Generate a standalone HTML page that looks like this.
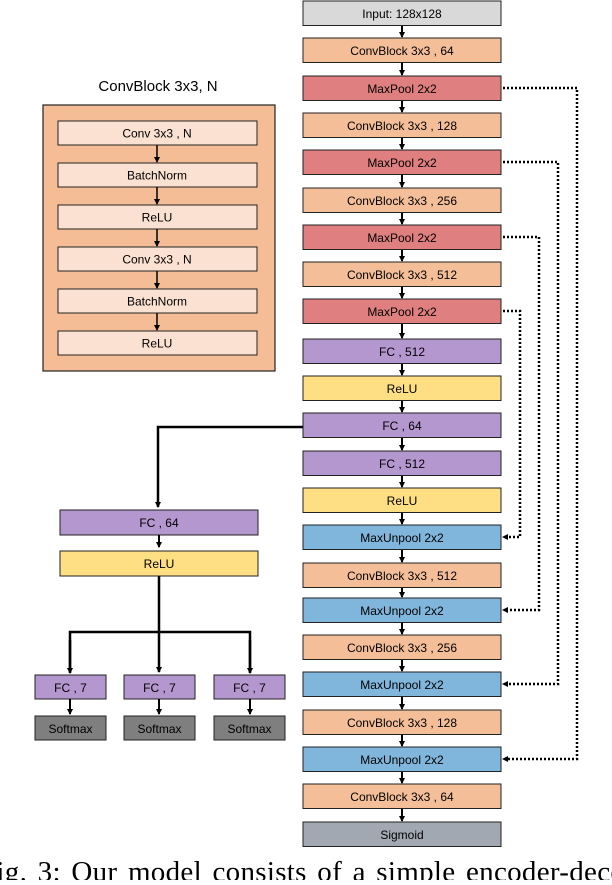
<!DOCTYPE html>
<html><head><style>
body{margin:0;background:#fff;width:612px;height:880px;overflow:hidden;position:relative}
svg text{font-family:"Liberation Sans","DejaVu Sans",sans-serif;font-size:12px;}
.capwrap{position:absolute;left:0;top:850px;width:612px;height:30px;overflow:hidden}
.cap{position:absolute;left:-20px;top:6px;font-family:"Liberation Serif",serif;font-size:29px;white-space:nowrap;color:#000;letter-spacing:0.3px;word-spacing:3px}
</style></head><body>
<svg width="612" height="880" xmlns="http://www.w3.org/2000/svg">
<defs>
<marker id="a" markerWidth="6" markerHeight="6" refX="5" refY="3" orient="auto" markerUnits="userSpaceOnUse"><path d="M0,0 L6,3 L0,6 z" fill="#000"/></marker>
</defs>
<g id="main"></g>
<text x="158" y="91" text-anchor="middle" style="font-size:15px">ConvBlock 3x3, N</text>
<rect x="43" y="105" width="232" height="266" fill="#f4bd96" stroke="#222" stroke-width="1.2"/>
<g id="panel"></g>
<polyline points="303,427 158,427 158,507" fill="none" stroke="#000" stroke-width="2.5" marker-end="url(#a)"/>
<rect x="60" y="510" width="198" height="25" fill="#b497cf" stroke="#222"/>
<text x="159" y="527" text-anchor="middle">FC , 64</text>
<line x1="159" y1="535" x2="159" y2="547" stroke="#000" stroke-width="2" marker-end="url(#a)"/>
<rect x="60" y="551" width="198" height="25" fill="#fedf84" stroke="#222"/>
<text x="159" y="568" text-anchor="middle">ReLU</text>
<line x1="159" y1="576" x2="159" y2="672" stroke="#000" stroke-width="2.5" marker-end="url(#a)"/>
<polyline points="70,672 70,632 250,632 250,672" fill="none" stroke="#000" stroke-width="2.5"/>
<line x1="70" y1="640" x2="70" y2="673" stroke="#000" stroke-width="2.5" marker-end="url(#a)"/>
<line x1="250" y1="640" x2="250" y2="673" stroke="#000" stroke-width="2.5" marker-end="url(#a)"/>
<g id="heads"></g>
</svg>
<div class="capwrap"><div class="cap">Fig. 3: Our model consists of a simple encoder-deco</div></div>
<script>
const NS="http://www.w3.org/2000/svg";
function el(p,t,a,txt){const e=document.createElementNS(NS,t);for(const k in a)e.setAttribute(k,a[k]);if(txt)e.textContent=txt;p.appendChild(e);return e;}
const C={g:"#d9d9d9",c:"#f4bf98",m:"#df7f7f",f:"#b497cf",r:"#fedf84",u:"#80b5dc",s:"#a2a8b1"};
const items=[["g","Input: 128x128"],["c","ConvBlock 3x3 , 64"],["m","MaxPool 2x2"],["c","ConvBlock 3x3 , 128"],["m","MaxPool 2x2"],["c","ConvBlock 3x3 , 256"],["m","MaxPool 2x2"],["c","ConvBlock 3x3 , 512"],["m","MaxPool 2x2"],["f","FC , 512"],["r","ReLU"],["f","FC , 64"],["f","FC , 512"],["r","ReLU"],["u","MaxUnpool 2x2"],["c","ConvBlock 3x3 , 512"],["u","MaxUnpool 2x2"],["c","ConvBlock 3x3 , 256"],["u","MaxUnpool 2x2"],["c","ConvBlock 3x3 , 128"],["u","MaxUnpool 2x2"],["c","ConvBlock 3x3 , 64"],["s","Sigmoid"]];
const g=document.getElementById("main");const Y=[];
function yy(i){return Math.round(1+i*37.3+(i>=9&&i<=15?2:0));}
items.forEach((it,i)=>{const y=yy(i);Y.push(y);
el(g,"rect",{x:303,y:y,width:198,height:24.5,fill:C[it[0]],stroke:"#222"});
el(g,"text",{x:402,y:y+17,"text-anchor":"middle"},it[1]);
if(i<items.length-1){el(g,"line",{x1:402,y1:y+25,x2:402,y2:yy(i+1)-1,stroke:"#000","stroke-width":2,"marker-end":"url(#a)"});}
});
const pairs=[[2,20,577],[4,18,558],[6,16,539],[8,14,520]];
pairs.forEach(p=>{const y1=Y[p[0]]+12,y2=Y[p[1]]+12;
el(g,"polyline",{points:`503,${y1} ${p[2]},${y1} ${p[2]},${y2} 506,${y2}`,fill:"none",stroke:"#000","stroke-width":2.5,"stroke-dasharray":"2,2"});
el(g,"path",{d:`M502,${y2} L508,${y2-3} L508,${y2+3} z`,fill:"#000"});});
const pl=document.getElementById("panel");
["Conv 3x3 , N","BatchNorm","ReLU","Conv 3x3 , N","BatchNorm","ReLU"].forEach((t,i)=>{const y=121+i*42;
el(pl,"rect",{x:58,y:y,width:199,height:24,fill:"#fbe1d1",stroke:"#222"});
el(pl,"text",{x:157,y:y+16.5,"text-anchor":"middle"},t);
if(i<5)el(pl,"line",{x1:157,y1:y+24,x2:157,y2:y+41,stroke:"#000","stroke-width":1.5,"marker-end":"url(#a)"});});
const h=document.getElementById("heads");
[[35,70],[124,159],[214,250]].forEach(([x,c])=>{
el(h,"rect",{x:x,y:675,width:71,height:24,fill:"#b497cf",stroke:"#222"});
el(h,"text",{x:x+35.5,y:692,"text-anchor":"middle"},"FC , 7");
el(h,"line",{x1:c,y1:699,x2:c,y2:714,stroke:"#000","stroke-width":2,"marker-end":"url(#a)"});
el(h,"rect",{x:x,y:716,width:71,height:24,fill:"#7f7f7f",stroke:"#222"});
el(h,"text",{x:x+35.5,y:733,"text-anchor":"middle"},"Softmax");});
</script>
</body></html>
